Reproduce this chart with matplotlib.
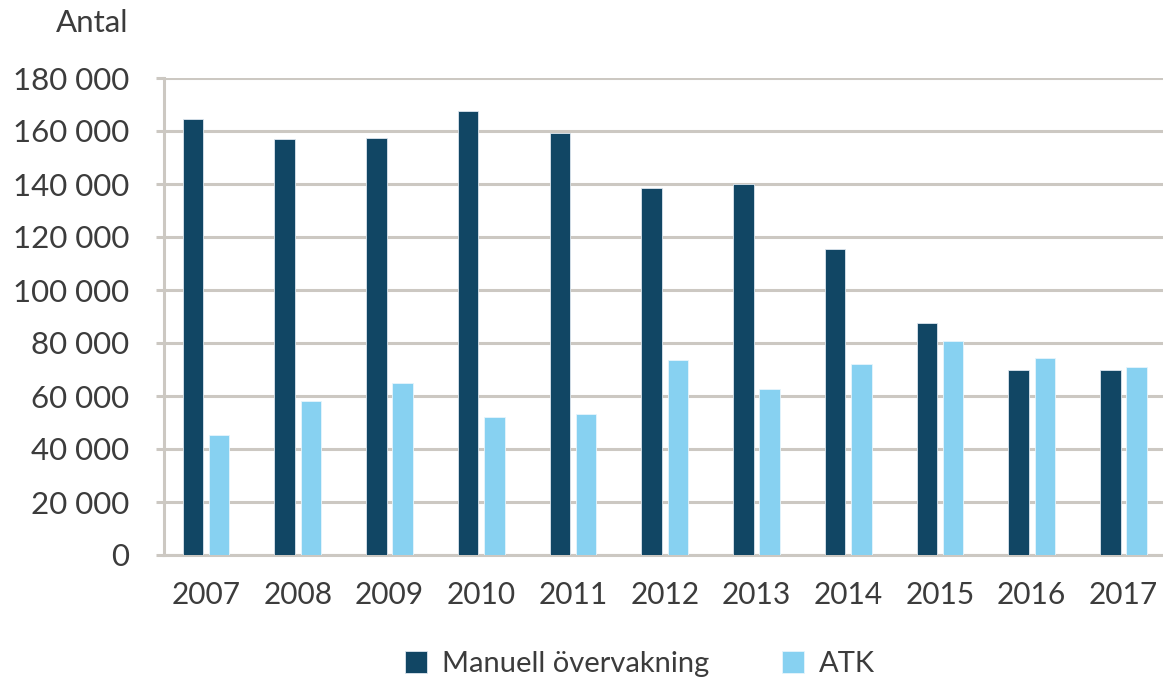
import matplotlib
matplotlib.use("Agg")
import matplotlib.pyplot as plt
import numpy as np

years = ["2007", "2008", "2009", "2010", "2011", "2012", "2013", "2014", "2015", "2016", "2017"]
manuell = [164700, 156800, 157500, 167700, 159300, 138600, 140000, 115300, 87400, 69700, 69700]
atk = [45400, 58100, 64800, 52200, 53300, 73400, 62500, 72000, 80700, 74500, 70800]
yticks = [0, 20000, 40000, 60000, 80000, 100000, 120000, 140000, 160000, 180000]
ytick_labels = ["0", "20 000", "40 000", "60 000", "80 000", "100 000", "120 000", "140 000", "160 000", "180 000"]

DARK = "#114664"
LIGHT = "#87D1F1"
GRID = "#CCC8C2"
TXT = "#3c3c3c"

plt.rcParams['font.family'] = ['Lato', 'DejaVu Sans']

W, H = 1163, 678
fig = plt.figure(figsize=(W / 100, H / 100), dpi=100)
ax_l, ax_r, ax_t, ax_b = 164, 1163, 78, 555
ax = fig.add_axes([ax_l / W, 1 - ax_b / H, (ax_r - ax_l) / W, (ax_b - ax_t) / H])

x = np.arange(len(years))
bw = 0.222
off = 0.143
ax.bar(x - off, manuell, bw, color=DARK, edgecolor="#dde6ee", linewidth=0.6, zorder=3, label="Manuell övervakning")
ax.bar(x + off, atk, bw, color=LIGHT, edgecolor="#e6f5fc", linewidth=0.6, zorder=3, label="ATK")

spacing = 91.75
c0 = 206
ax.set_xlim((ax_l - c0) / spacing, (ax_r - c0) / spacing)
ax.set_ylim(0, 180000)

ax.set_yticks(yticks)
ax.set_yticklabels(ytick_labels)
ax.set_xticks(x)
ax.set_xticklabels(years)

ax.yaxis.grid(True, color=GRID, linewidth=2.2, zorder=0)
ax.set_axisbelow(True)
for s in ["top", "right"]:
    ax.spines[s].set_visible(False)
ax.spines["left"].set_color(GRID)
ax.spines["left"].set_linewidth(2.2)
ax.spines["bottom"].set_color(GRID)
ax.spines["bottom"].set_linewidth(2.2)

ax.tick_params(axis="y", length=6, width=2.2, color=GRID, pad=19, labelsize=22.5, labelcolor=TXT)
ax.tick_params(axis="x", length=0, pad=19, labelsize=21.5, labelcolor=TXT)

fig.text(128 / W, 1 - 23 / H, "Antal", ha="right", va="center", fontsize=22.5, color=TXT)

leg = fig.legend(loc="center", bbox_to_anchor=(640 / W, 1 - 664 / H), ncol=2, frameon=False,
                 prop={'size': 21}, handlelength=0.75, handleheight=0.75,
                 handletextpad=0.5, columnspacing=2.5, labelcolor=TXT)

fig.savefig("out.png", dpi=100)
